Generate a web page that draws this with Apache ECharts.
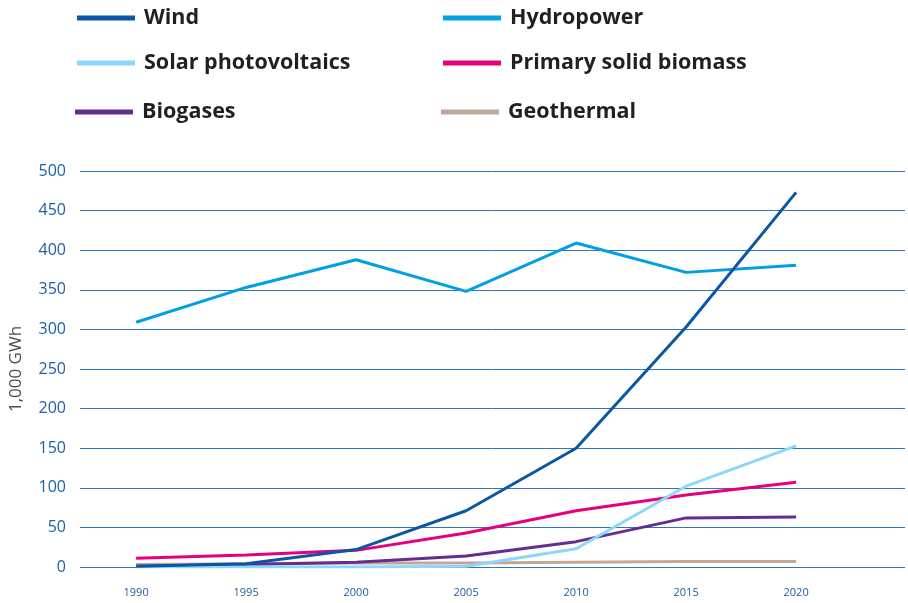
<!DOCTYPE html>
<html>
<head>
<meta charset="utf-8">
<script src="https://cdn.jsdelivr.net/npm/echarts@6/dist/echarts.min.js"></script>
<style>html,body{margin:0;padding:0;background:#fff}#c{width:908px;height:603px}</style>
</head>
<body>
<div id="c"></div>
<script>
const years = [1990, 1995, 2000, 2005, 2010, 2015, 2020];
const wind = [1, 4, 22, 71, 150, 303, 473];
const hydropower = [309, 353, 388, 348, 409, 372, 381];
const solar = [0, 0, 0, 1, 23, 102, 153];
const biomass = [11, 15, 21, 43, 71, 91, 107];
const biogases = [1, 3, 6, 14, 32, 62, 63];
const geothermal = [3, 4, 5, 5, 6, 7, 7];
const yTicks = [0, 50, 100, 150, 200, 250, 300, 350, 400, 450, 500];

const seriesDefs = [
  {name: 'Geothermal', data: geothermal, color: '#c4a59a'},
  {name: 'Biogases', data: biogases, color: '#662d91'},
  {name: 'Primary solid biomass', data: biomass, color: '#e6007e'},
  {name: 'Solar photovoltaics', data: solar, color: '#8dd8f8'},
  {name: 'Hydropower', data: hydropower, color: '#00a0e3'},
  {name: 'Wind', data: wind, color: '#0b57a4'}
];

const legendPos = [
  {name: 'Wind', left: 77, top: 7},
  {name: 'Hydropower', left: 443, top: 7},
  {name: 'Solar photovoltaics', left: 77, top: 52},
  {name: 'Primary solid biomass', left: 443, top: 52},
  {name: 'Biogases', left: 75, top: 101},
  {name: 'Geothermal', left: 441, top: 101}
];

const chart = echarts.init(document.getElementById('c'), null, {renderer: 'canvas'});
chart.setOption({
  animation: false,
  grid: {left: 80, right: 3, top: 171, bottom: 36, containLabel: false, outerBoundsMode: 'none'},
  legend: legendPos.map(p => ({
    data: [p.name], left: p.left, top: p.top, icon: 'rect', padding: 0,
    itemWidth: 58, itemHeight: 5, itemGap: 0,
    textStyle: {fontFamily: 'Open Sans', fontWeight: 'bold', fontSize: 21.5, color: '#231f20', padding: [0, 0, 0, 4]},
    selectedMode: false
  })),
  xAxis: {
    type: 'value', min: 1987.45, max: 2024.95,
    axisLine: {show: false}, axisTick: {show: false}, splitLine: {show: false},
    axisLabel: {customValues: years, color: '#1f5fa0', fontSize: 11, fontFamily: 'Open Sans', margin: 20,
      formatter: v => String(v)}
  },
  yAxis: {
    type: 'value', min: 0, max: 500, interval: 50,
    name: '1,000 GWh', nameLocation: 'middle', nameGap: 55, nameRotate: 90,
    nameTextStyle: {color: '#4d4d4d', fontSize: 17, fontFamily: 'Open Sans'},
    axisLine: {show: false}, axisTick: {show: false},
    axisLabel: {color: '#1d5fa8', fontSize: 16, fontFamily: 'Open Sans', margin: 14},
    splitLine: {lineStyle: {color: '#2f74bd', width: 1}}
  },
  series: seriesDefs.map(s => ({
    name: s.name, type: 'line', showSymbol: false, symbol: 'none',
    data: years.map((y, i) => [y, s.data[i]]),
    lineStyle: {color: s.color, width: 3},
    itemStyle: {color: s.color}
  }))
});
</script>
</body>
</html>
